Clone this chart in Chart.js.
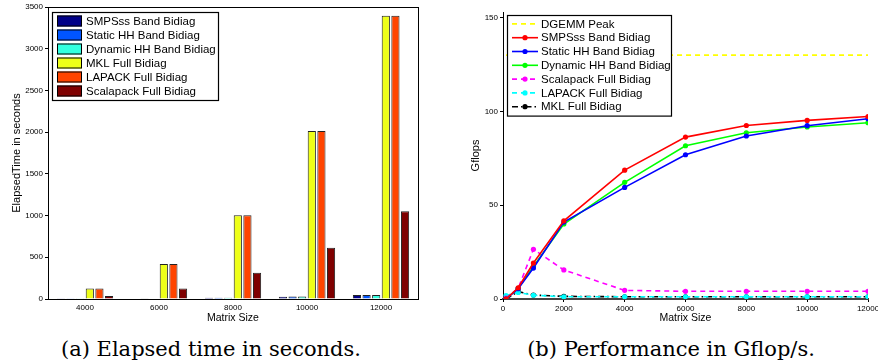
<!DOCTYPE html>
<html>
<head>
<meta charset="utf-8">
<script src="https://cdn.jsdelivr.net/npm/chart.js@4.4.0/dist/chart.umd.min.js"></script>
<style>
  body { margin: 0; background: #fff; }
  #wrap { position: relative; width: 878px; height: 364px; overflow: hidden; background: #fff; }
  #left { position: absolute; left: 0; top: 0; }
  #right { position: absolute; left: 440px; top: 0; }
  .cap { position: absolute; top: 339px; line-height: 21px; font-family: "DejaVu Serif", serif; font-size: 21px; color: #000; white-space: nowrap; transform: translateX(-50%); }
</style>
</head>
<body>
<div id="wrap">
  <canvas id="left" width="440" height="330"></canvas>
  <canvas id="right" width="460" height="330"></canvas>
  <div class="cap" style="left:211px">(a) Elapsed time in seconds.</div>
  <div class="cap" style="left:671px">(b) Performance in Gflop/s.</div>
</div>
<script>
// (a) elapsed time, seconds
const sizes = ['4000', '6000', '8000', '10000', '12000'];
const smpssTime = [2.5, 6.7, 15, 28, 47];
const staticTime = [2.9, 7.5, 16, 29, 48];
const dynamicTime = [2.8, 7.1, 15.5, 29, 49];
const mklTime = [125, 420, 1005, 2015, 3395];
const lapackTime = [125, 420, 1005, 2015, 3395];
const scalapackTime = [36, 125, 315, 615, 1052];
const timeTicks = [0, 500, 1000, 1500, 2000, 2500, 3000, 3500];

// (b) performance, Gflop/s
const perfSizes = [100, 500, 1000, 2000, 4000, 6000, 8000, 10000, 12000];
const dgemmPeak = [130, 130, 130, 130, 130, 130, 130, 130, 130];
const smpssPerf = [0, 6, 19.2, 41.7, 68.7, 86.3, 92.5, 95.2, 97.3];
const staticPerf = [0, 5.5, 16.5, 41, 59.5, 76.9, 86.9, 92.4, 96.1];
const dynamicPerf = [0, 5.7, 17.4, 40, 62.2, 81.7, 88.6, 91.7, 94];
const scalapackPerf = [0.5, 5.7, 26.5, 15.5, 4.6, 4.1, 4.1, 4.1, 4.1];
const lapackPerf = [1.8, 3.5, 2, 1.2, 1.2, 1.2, 1.2, 1.2, 1.2];
const mklPerf = [0, 3.9, 2.1, 1.4, 1.2, 1.2, 1.2, 1.2, 1.2];
const perfTicks = [0, 50, 100, 150];
const perfXTicks = [0, 2000, 4000, 6000, 8000, 10000, 12000];

const SANS = '"Liberation Sans", Arial, sans-serif';
Chart.defaults.font.family = SANS;
Chart.defaults.color = '#000';
Chart.defaults.animation = false;

const boxPlugin = {
    id: 'box',
    afterDraw(chart) {
        const a = chart.chartArea, ctx = chart.ctx;
        ctx.save();
        ctx.strokeStyle = '#000';
        ctx.lineWidth = 1;
        ctx.strokeRect(Math.round(a.left) + 0.5, Math.round(a.top) + 0.5, Math.round(a.right - a.left), Math.round(a.bottom - a.top));
        ctx.restore();
    }
};

// legend drawn inside the plot, matlab style
function boxLegend(x, y, w, rowH, kind) {
    return {
        id: 'boxLegend',
        afterDraw(chart) {
            const ctx = chart.ctx;
            const sets = chart.data.datasets;
            const h = rowH * sets.length + 4;
            ctx.save();
            ctx.fillStyle = '#fff';
            ctx.fillRect(x, y, w, h);
            ctx.strokeStyle = '#000';
            ctx.lineWidth = 1.2;
            ctx.strokeRect(x + 0.5, y + 0.5, w, h);
            ctx.font = '11.5px ' + SANS;
            ctx.textBaseline = 'middle';
            sets.forEach((ds, i) => {
                const cy = y + 2 + rowH * (i + 0.5);
                if (kind === 'bar') {
                    ctx.fillStyle = ds.backgroundColor;
                    ctx.fillRect(x + 5, cy - 5.5, 25, 11);
                    ctx.strokeStyle = '#000';
                    ctx.lineWidth = 1;
                    ctx.strokeRect(x + 5.5, cy - 5, 24, 10);
                    ctx.fillStyle = '#000';
                    ctx.fillText(ds.label, x + 34, cy + 0.5);
                } else {
                    ctx.strokeStyle = ds.borderColor;
                    ctx.lineWidth = ds.borderWidth;
                    ctx.setLineDash(ds.borderDash || []);
                    ctx.beginPath();
                    ctx.moveTo(x + 5, cy);
                    ctx.lineTo(x + 31, cy);
                    ctx.stroke();
                    ctx.setLineDash([]);
                    if (ds.pointRadius > 0) {
                        ctx.fillStyle = ds.borderColor;
                        ctx.beginPath();
                        ctx.arc(x + 18, cy, ds.pointRadius, 0, Math.PI * 2);
                        ctx.fill();
                    }
                    ctx.fillStyle = '#000';
                    ctx.fillText(ds.label, x + 34, cy + 0.5);
                }
            });
            ctx.restore();
        }
    };
}

function barSet(label, data, color) {
    return { label, data, backgroundColor: color, borderColor: '#222', borderWidth: 1,
             categoryPercentage: 0.78, barPercentage: 0.85 };
}

new Chart(document.getElementById('left').getContext('2d'), {
    type: 'bar',
    data: {
        labels: sizes,
        datasets: [
            barSet('SMPSss Band Bidiag', smpssTime, '#000088'),
            barSet('Static HH Band Bidiag', staticTime, '#0055ff'),
            barSet('Dynamic HH Band Bidiag', dynamicTime, '#33ffe0'),
            barSet('MKL Full Bidiag', mklTime, '#eeff18'),
            barSet('LAPACK Full Bidiag', lapackTime, '#ff4400'),
            barSet('Scalapack Full Bidiag', scalapackTime, '#7f0000'),
        ]
    },
    options: {
        responsive: false,
        layout: { padding: { left: 0, top: 7, right: 22, bottom: 0 } },
        plugins: { legend: { display: false }, tooltip: { enabled: false } },
        scales: {
            x: {
                grid: { display: false, drawTicks: false, tickLength: 0 },
                border: { display: false },
                ticks: { font: { size: 8 }, padding: 4, maxRotation: 0 },
                title: { display: true, text: 'Matrix Size', font: { size: 10.5 }, padding: { top: 0, bottom: 6 } },
                afterFit(s) { s.height = 31; }
            },
            y: {
                min: 0, max: 3500,
                afterBuildTicks(s) { s.ticks = timeTicks.map(v => ({ value: v })); },
                grid: { drawOnChartArea: false, tickLength: 3, color: '#000' },
                border: { display: false },
                ticks: { font: { size: 8 }, padding: 2, callback: v => String(v) },
                title: { display: true, text: 'ElapsedTime in seconds', font: { size: 11 }, padding: { top: 10, bottom: 0 } },
                afterFit(s) { s.width = 48; }
            }
        }
    },
    plugins: [boxPlugin, boxLegend(52, 12, 166, 14, 'bar')]
});

function lineSet(label, data, color, dash, radius) {
    return { label, data: perfSizes.map((x, i) => ({ x, y: data[i] })), borderColor: color, backgroundColor: color,
             borderWidth: 1.6, borderDash: dash, pointRadius: radius, pointBorderWidth: 0, pointHoverRadius: 0, tension: 0 };
}

new Chart(document.getElementById('right').getContext('2d'), {
    type: 'line',
    data: {
        datasets: [
            lineSet('DGEMM Peak', dgemmPeak, '#ffff00', [5, 4], 0),
            lineSet('SMPSss Band Bidiag', smpssPerf, '#ff0000', [], 2.6),
            lineSet('Static HH Band Bidiag', staticPerf, '#0000ff', [], 2.6),
            lineSet('Dynamic HH Band Bidiag', dynamicPerf, '#00ff00', [], 2.6),
            lineSet('Scalapack Full Bidiag', scalapackPerf, '#ff00ff', [5, 4], 2.6),
            lineSet('LAPACK Full Bidiag', lapackPerf, '#00ffff', [5, 4], 2.6),
            lineSet('MKL Full Bidiag', mklPerf, '#000000', [6, 3, 1.5, 3], 2.6),
        ]
    },
    options: {
        responsive: false,
        layout: { padding: { left: 0, top: 12, right: 32, bottom: 0 } },
        plugins: { legend: { display: false }, tooltip: { enabled: false } },
        scales: {
            x: {
                type: 'linear', min: 0, max: 12000,
                afterBuildTicks(s) { s.ticks = perfXTicks.map(v => ({ value: v })); },
                grid: { drawOnChartArea: false, tickLength: 3, color: '#000' },
                border: { display: true, color: '#444', width: 2 },
                ticks: { font: { size: 8 }, padding: 2, maxRotation: 0, callback: v => String(v) },
                title: { display: true, text: 'Matrix Size', font: { size: 10.5 }, padding: { top: 0, bottom: 6 } },
                afterFit(s) { s.height = 31; }
            },
            y: {
                min: 0, max: 153,
                afterBuildTicks(s) { s.ticks = perfTicks.map(v => ({ value: v })); },
                grid: { drawOnChartArea: false, tickLength: 3, color: '#000' },
                border: { display: true, color: '#000', width: 1 },
                ticks: { font: { size: 8 }, padding: 2 },
                title: { display: true, text: 'Gflops', font: { size: 11 }, padding: { top: 29, bottom: 0 } },
                afterFit(s) { s.width = 63; }
            }
        }
    },
    plugins: [boxLegend(67, 15, 164, 13.8, 'line')]
});
</script>
</body>
</html>
